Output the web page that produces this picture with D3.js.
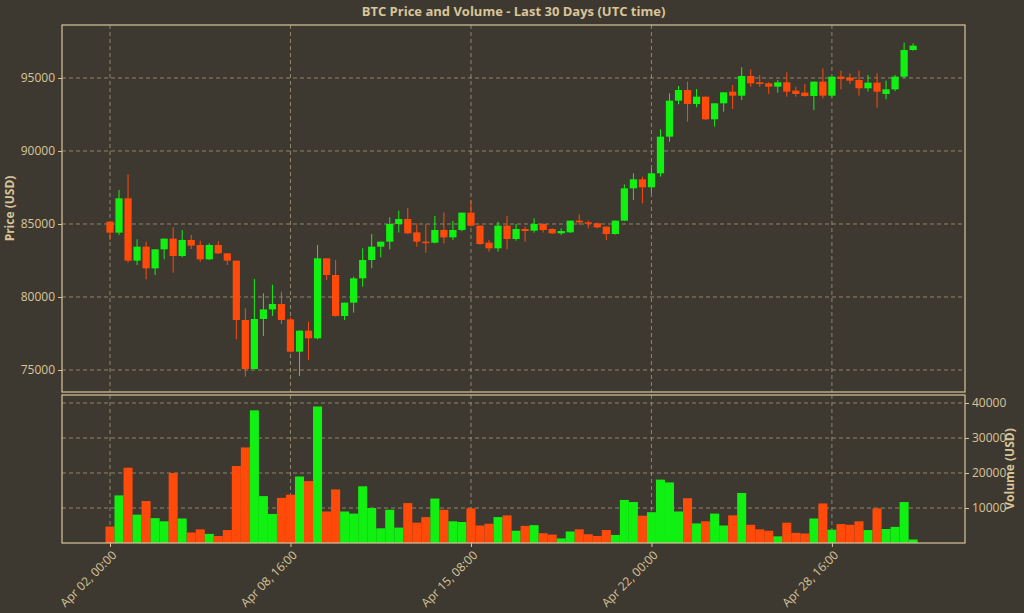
<!DOCTYPE html>
<html>
<head>
<meta charset="utf-8">
<script src="https://cdn.jsdelivr.net/npm/d3@7"></script>
<style>
  body { margin: 0; background: #3e3930; }
  text { font-family: "Open Sans", "DejaVu Sans", sans-serif; }
</style>
</head>
<body>
<script>
// 8-hour candles starting Apr 02 00:00 UTC
var startTime = Date.UTC(2025, 3, 2, 0, 0);
var opens = [85160, 84407, 86758, 82490, 83448, 81964, 83265, 83996, 82809, 83905,
  83562, 82580, 83562, 82991, 82490, 78425, 75070, 78494, 79150, 79521,
  78470, 76256, 77695, 77170, 82650, 81507, 78700, 79613, 81280, 82535,
  83448, 83790, 85000, 85343, 84430, 83790, 83722, 84590, 84087, 84590,
  85777, 84886, 83722, 83334, 84887, 83973, 84658, 84543, 85000, 84658,
  84361, 84430, 85230, 85114, 85046, 84818, 84315, 85230, 87443, 88060,
  87512, 88472, 90982, 93448, 94179, 93220, 93722, 92170, 93266, 94065,
  93790, 95138, 94704, 94635, 94407, 94704, 94133, 94000, 93768, 94750,
  93790, 95092, 95023, 94863, 94293, 94681, 93905, 94224, 95092, 96918];
var closes = [84407, 86758, 82490, 83448, 81964, 83265, 83996, 82809, 83905, 83517,
  82580, 83562, 82991, 82490, 78425, 75070, 78494, 79150, 79521, 78425,
  76256, 77695, 77170, 82650, 81507, 78700, 79613, 81280, 82535, 83448,
  83790, 85000, 85343, 84361, 83790, 83722, 84590, 84087, 84590, 85777,
  84886, 83630, 83334, 84887, 83973, 84658, 84520, 85000, 84590, 84361,
  84520, 85230, 85114, 85046, 84772, 84315, 85230, 87443, 88060, 87512,
  88472, 90982, 93448, 94178, 93220, 93722, 92170, 93266, 94019, 93790,
  95138, 94635, 94590, 94407, 94704, 94065, 93905, 93768, 94750, 93790,
  95092, 94932, 94818, 94293, 94681, 94065, 94224, 95092, 96918, 97215];
var highs = [85160, 87330, 88400, 83950, 83790, 83265, 83996, 84772, 84590, 84247,
  83859, 83676, 83813, 82991, 82490, 79225, 81233, 80253, 80845, 80367,
  78600, 77695, 78311, 83562, 82650, 82535, 79613, 81393, 83334, 84315,
  83790, 85457, 85914, 86096, 85046, 84978, 85548, 85800, 85206, 85777,
  86600, 84886, 83900, 85160, 85548, 85000, 84818, 85388, 85046, 84704,
  84704, 85230, 85663, 85230, 85092, 84818, 85230, 87717, 88472, 88243,
  88813, 91487, 93950, 94450, 94750, 94247, 93722, 93266, 94019, 94521,
  95731, 95594, 95206, 94704, 94863, 95389, 94407, 94590, 94750, 95663,
  95092, 95503, 95320, 95503, 95206, 95320, 94818, 95206, 97420, 97375];
var lows = [83900, 84247, 82350, 82190, 81210, 81507, 82580, 81667, 82717, 83288,
  82420, 82535, 82946, 82190, 77100, 74545, 75070, 77330, 78700, 78152,
  76200, 74590, 75686, 77100, 81165, 78654, 78425, 78928, 80710, 81964,
  82717, 83265, 84407, 84315, 83448, 83037, 83676, 83676, 83904, 84500,
  84818, 83563, 83106, 83106, 83266, 83860, 83790, 84407, 84407, 84300,
  84247, 84380, 84932, 84704, 84700, 83900, 84280, 85200, 86644, 86416,
  87100, 88243, 90640, 93200, 92010, 92991, 92124, 91667, 92695, 92877,
  93494, 94407, 94407, 93905, 93996, 93722, 93722, 93722, 92809, 93608,
  93700, 94224, 94590, 93790, 94065, 92969, 93540, 94100, 95000, 96873];
var volumes = [4700, 13600, 21500, 8100, 12000, 7100, 6200, 20000, 7000, 3000,
  3900, 2600, 2000, 3700, 22000, 27300, 37900, 13400, 8300, 12900,
  13800, 19000, 17700, 39000, 9000, 15300, 9000, 8400, 16200, 10000,
  4200, 9500, 4400, 11400, 5800, 7400, 12700, 9500, 6200, 6000,
  9900, 5000, 5500, 7400, 7900, 3500, 4900, 5100, 2800, 2400,
  1300, 3300, 3900, 2500, 2000, 3700, 2300, 12300, 11700, 7800,
  8800, 18100, 17300, 9000, 12800, 5600, 6200, 8400, 5000, 7900,
  14300, 5200, 3900, 3500, 1900, 5800, 2900, 2700, 7000, 11300,
  3800, 5400, 5200, 6200, 3700, 9900, 4000, 4600, 11700, 1000];
var priceTicks = [75000, 80000, 85000, 90000, 95000];
var volumeTicks = [10000, 20000, 30000, 40000];
var dateTicks = [Date.UTC(2025, 3, 2, 0), Date.UTC(2025, 3, 8, 16), Date.UTC(2025, 3, 15, 8),
  Date.UTC(2025, 3, 22, 0), Date.UTC(2025, 3, 28, 16)];

var W = 1024, H = 613,
  left = 62, right = 965,
  pTop = 25, pBottom = 392,
  vTop = 395, vBottom = 543,
  fg = '#d8c59b', grid = '#a8987a',
  up = '#11f111', down = '#ff4a0a',
  hour = 3600 * 1000, step = 8 * hour;

var candles = opens.map(function(o, i) {
  return { t: startTime + i * step, o: o, c: closes[i], h: highs[i], l: lows[i], v: volumes[i] };
});

var svg = d3.select('body').append('svg').attr('width', W).attr('height', H);
svg.append('rect').attr('width', W).attr('height', H).attr('fill', '#3e3930');

// 1.128 px per hour, Apr 02 00:00 sits at x=110
var x = d3.scaleUtc()
  .domain([startTime - (110 - left) / 1.128 * hour, startTime + (right - 110) / 1.128 * hour])
  .range([left, right]);
var y = d3.scaleLinear().domain([73493, 98630]).range([pBottom, pTop]);
var yv = d3.scaleLinear().domain([0, 42286]).range([vBottom, vTop]);
var bw = x(startTime + step) - x(startTime);

function dashedGrid(g, xs, ys, x1, x2, y1, y2) {
  g.selectAll('.vg').data(xs).enter().append('line')
    .attr('x1', function(d) { return x(d); }).attr('x2', function(d) { return x(d); })
    .attr('y1', y1).attr('y2', y2);
  g.selectAll('.hg').data(ys.values).enter().append('line')
    .attr('x1', x1).attr('x2', x2)
    .attr('y1', function(d) { return ys.scale(d); }).attr('y2', function(d) { return ys.scale(d); });
  g.selectAll('line').attr('stroke', grid).attr('stroke-width', 0.8).attr('stroke-dasharray', '4,3');
}

dashedGrid(svg.append('g'), dateTicks, { values: priceTicks, scale: y }, left, right, pTop, pBottom);
dashedGrid(svg.append('g'), dateTicks, { values: volumeTicks, scale: yv }, left, right, vTop, vBottom);

// candles
var cg = svg.append('g');
cg.selectAll('line').data(candles).enter().append('line')
  .attr('x1', function(d) { return x(d.t); }).attr('x2', function(d) { return x(d.t); })
  .attr('y1', function(d) { return y(d.h); }).attr('y2', function(d) { return y(d.l); })
  .attr('stroke', function(d) { return d.c >= d.o ? up : down; }).attr('stroke-width', 1);
cg.selectAll('rect').data(candles).enter().append('rect')
  .attr('x', function(d) { return x(d.t) - bw * 0.4; })
  .attr('width', bw * 0.8)
  .attr('y', function(d) { return y(Math.max(d.o, d.c)); })
  .attr('height', function(d) { return Math.max(1.5, Math.abs(y(d.o) - y(d.c))); })
  .attr('fill', function(d) { return d.c >= d.o ? up : down; });

// volume
svg.append('g').selectAll('rect').data(candles).enter().append('rect')
  .attr('x', function(d) { return x(d.t) - bw / 2; })
  .attr('width', bw)
  .attr('y', function(d) { return yv(d.v); })
  .attr('height', function(d) { return vBottom - yv(d.v); })
  .attr('fill', function(d) { return d.c >= d.o ? up : down; });

// frames
[[pTop, pBottom], [vTop, vBottom]].forEach(function(p) {
  svg.append('rect').attr('x', left).attr('y', p[0]).attr('width', right - left).attr('height', p[1] - p[0])
    .attr('fill', 'none').attr('stroke', fg).attr('stroke-width', 1.2);
});

// axes
var ya = svg.append('g').attr('transform', 'translate(' + left + ',0)')
  .call(d3.axisLeft(y).tickValues(priceTicks).tickFormat(d3.format('d')).tickSize(4));
var va = svg.append('g').attr('transform', 'translate(' + right + ',0)')
  .call(d3.axisRight(yv).tickValues(volumeTicks).tickFormat(d3.format('d')).tickSize(4));
var xa = svg.append('g').attr('transform', 'translate(0,' + vBottom + ')')
  .call(d3.axisBottom(x).tickValues(dateTicks).tickFormat(d3.utcFormat('%b %d, %H:%M')).tickSize(4));
[ya, va, xa].forEach(function(a) {
  a.select('.domain').remove();
  a.selectAll('line').attr('stroke', fg);
  a.selectAll('text').attr('fill', fg).style('font-size', '12px');
});
xa.selectAll('text')
  .attr('text-anchor', 'end')
  .attr('transform', 'translate(-2,4) rotate(-45)')
  .attr('dy', '0.7em').attr('y', 4).attr('x', 0);

svg.append('text').attr('x', (left + right) / 2).attr('y', 16).attr('text-anchor', 'middle')
  .attr('fill', fg).style('font-size', '13px').style('font-weight', 'bold')
  .text('BTC Price and Volume - Last 30 Days (UTC time)');
svg.append('text').attr('transform', 'translate(14,' + (pTop + pBottom) / 2 + ') rotate(-90)')
  .attr('text-anchor', 'middle').attr('fill', fg).style('font-size', '12px').style('font-weight', 'bold')
  .text('Price (USD)');
svg.append('text').attr('transform', 'translate(1014,' + (vTop + vBottom) / 2 + ') rotate(-90)')
  .attr('text-anchor', 'middle').attr('fill', fg).style('font-size', '12px').style('font-weight', 'bold')
  .text('Volume (USD)');
</script>
</body>
</html>
